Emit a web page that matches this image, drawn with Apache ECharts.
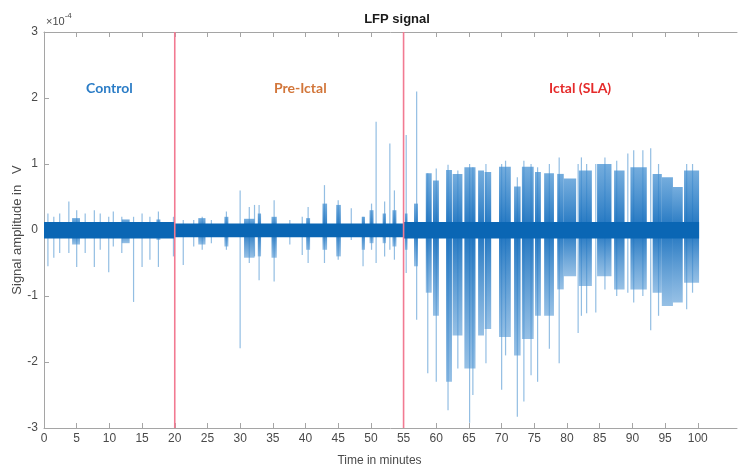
<!DOCTYPE html>
<html>
<head>
<meta charset="utf-8">
<script src="https://cdn.jsdelivr.net/npm/echarts@6/dist/echarts.min.js"></script>
<style>html,body{margin:0;padding:0;background:#fff;}#chart{width:743px;height:468px;}</style>
</head>
<body>
<div id="chart"></div>
<script>
// ---- values (amplitude in units of 1e-4 V, time in minutes) ----
const timeTicks = [0,5,10,15,20,25,30,35,40,45,50,55,60,65,70,75,80,85,90,95,100];
const ampTicks = [-3,-2,-1,0,1,2,3];

// background dense band of the signal per stage
const coreStart = [0, 20, 55];
const coreEnd   = [20, 55, 100.2];
const coreHigh  = [0.12, 0.10, 0.12];
const coreLow   = [-0.13, -0.11, -0.13];

// dense burst bodies
const burstStart = [4.3, 11.9, 17.2, 23.6, 27.6, 30.6, 32.7, 34.8, 40.1, 42.6, 44.7, 48.6, 49.8, 51.8, 53.3, 55.2, 56.6,
  58.4, 59.5, 61.5, 62.5, 64.3, 66.4, 67.4, 69.6, 71.9, 73.1, 75.1, 76.5, 78.5, 79.5, 81.8, 84.6, 87.2, 89.7, 93.1, 94.5, 96.2, 97.9];
const burstEnd   = [5.5, 13.1, 17.8, 24.7, 28.2, 32.2, 33.2, 35.6, 40.7, 43.3, 45.4, 49.1, 50.4, 52.3, 53.9, 55.6, 57.2,
  59.3, 60.4, 62.4, 64.0, 66.0, 67.3, 68.4, 71.4, 72.9, 74.9, 76.0, 78.0, 79.5, 81.4, 83.8, 86.8, 88.8, 92.2, 94.5, 96.2, 97.7, 100.2];
const burstHigh  = [0.18, 0.16, 0.16, 0.18, 0.2, 0.17, 0.25, 0.2, 0.18, 0.4, 0.38, 0.2, 0.3, 0.25, 0.3, 0.25, 0.4,
  0.86, 0.75, 0.91, 0.85, 0.95, 0.9, 0.88, 0.96, 0.66, 0.96, 0.88, 0.86, 0.85, 0.78, 0.9, 1.0, 0.9, 0.95, 0.85, 0.8, 0.65, 0.9];
const burstLow   = [-0.22, -0.2, -0.15, -0.22, -0.25, -0.42, -0.4, -0.42, -0.3, -0.3, -0.4, -0.3, -0.2, -0.2, -0.25, -0.3, -0.55,
  -0.95, -1.3, -2.3, -1.6, -2.1, -1.6, -1.5, -1.62, -1.9, -1.65, -1.3, -1.3, -0.9, -0.7, -0.85, -0.7, -0.9, -0.9, -0.95, -1.15, -1.1, -0.8];

// isolated thin spikes
const spikeTime = [0.6, 1.5, 2.4, 3.8, 5.0, 6.3, 7.7, 8.6, 9.9, 10.6, 11.9, 13.7, 15.0, 16.2, 17.5, 19.8,
  21.3, 22.9, 24.2, 25.6, 27.9, 30.0, 31.4, 32.2, 32.9, 35.2, 37.6, 39.5, 40.4, 42.9, 45.0, 47.0, 48.8, 50.1, 50.8, 52.1, 52.9, 53.6, 55.4, 57.0,
  58.7, 60.0, 61.8, 63.3, 65.1, 65.6, 67.6, 70.0, 70.6, 72.4, 73.4, 74.5, 75.5, 77.3, 78.8, 81.7, 82.2, 83.0, 84.4, 85.8, 87.6, 89.3, 90.2, 91.6, 92.8, 94.0, 98.3, 99.2];
const spikeHigh = [0.25, 0.2, 0.25, 0.43, 0.3, 0.25, 0.3, 0.25, 0.2, 0.28, 0.2, 0.2, 0.25, 0.2, 0.28, 0.2,
  0.15, 0.15, 0.2, 0.15, 0.28, 0.6, 0.35, 0.38, 0.38, 0.45, 0.15, 0.2, 0.35, 0.68, 0.45, 0.33, 0.2, 0.4, 1.64, 0.43, 1.31, 0.6, 1.44, 2.1,
  0.86, 0.93, 0.99, 0.9, 1.0, 0.95, 1.0, 1.0, 1.05, 0.8, 1.05, 1.0, 0.95, 1.0, 1.1, 1.0, 1.1, 1.0, 1.0, 1.1, 1.05, 1.16, 1.21, 1.21, 1.24, 1.0, 1.0, 1.0];
const spikeLow = [-0.55, -0.42, -0.35, -0.35, -0.56, -0.35, -0.56, -0.3, -0.64, -0.25, -0.35, -1.09, -0.56, -0.45, -0.56, -0.4,
  -0.53, -0.25, -0.3, -0.2, -0.3, -1.79, -0.5, -0.4, -0.76, -0.78, -0.22, -0.38, -0.5, -0.5, -0.45, -0.15, -0.55, -0.3, -0.5, -0.4, -0.3, -0.45, -0.65, -1.36,
  -2.17, -2.3, -2.73, -2.1, -2.92, -2.5, -2.02, -2.42, -1.9, -2.83, -2.6, -2.2, -2.3, -1.8, -2.02, -1.56, -1.3, -1.26, -1.25, -0.9, -1.0, -0.95, -1.1, -1.0, -1.52, -1.3, -1.2, -0.95];

// stage boundaries and labels
const stageBoundaries = [20, 55];
const stageNames = ['Control', 'Pre-Ictal', 'Ictal (SLA)'];
const stageLabelTime = [10.0, 39.2, 82.0];
const stageLabelAmp = [2.15, 2.15, 2.15];
const stageColors = ['#2a7cc6', '#d2763a', '#e52b2b'];

// ---- build ----
const coreData = coreStart.map((s, i) => [s, coreEnd[i], coreHigh[i], coreLow[i]]);
const burstData = burstStart.map((s, i) => [s, burstEnd[i], burstHigh[i], burstLow[i]]);
const spikeData = spikeTime.map((t, i) => [t, spikeHigh[i], spikeLow[i]]);
const stageData = stageNames.map((n, i) => ({ name: n, value: [stageLabelTime[i], stageLabelAmp[i]], color: stageColors[i] }));

function burstRender(params, api) {
  const p1 = api.coord([api.value(0), api.value(2)]);
  const p2 = api.coord([api.value(1), api.value(3)]);
  const z = api.coord([api.value(0), 0])[1];
  const h = p2[1] - p1[1];
  const mid = Math.min(Math.max((z - p1[1]) / h, 0.05), 0.95);
  const grad = new echarts.graphic.LinearGradient(0, 0, 0, 1, [
    { offset: 0, color: 'rgba(70,145,210,0.75)' },
    { offset: mid, color: 'rgba(18,108,188,0.95)' },
    { offset: 1, color: 'rgba(80,150,212,0.6)' }
  ]);
  return { type: 'rect', shape: { x: p1[0], y: p1[1], width: Math.max(p2[0] - p1[0], 1), height: h }, style: { fill: grad } };
}

const chart = echarts.init(document.getElementById('chart'));
const axisGray = '#a5a5a5';
const labelGray = '#4a4a4a';
chart.setOption({
  animation: false,
  backgroundColor: '#fff',
  title: { text: 'LFP signal', left: 392, textAlign: 'center', top: 8,
    textStyle: { fontFamily: 'Liberation Sans', fontSize: 13, fontWeight: 'bold', color: '#1a1a1a' } },
  graphic: [{ type: 'text', left: 46, top: 12, style: {
    text: '{a|×10}{b|-4}', rich: { a: { fontSize: 11, fontFamily: 'Liberation Sans', fill: labelGray, padding: [4, 0, 0, 0] }, b: { fontSize: 8, fontFamily: 'Liberation Sans', fill: labelGray, verticalAlign: 'top' } } } }],
  grid: { left: 44, right: 6, top: 32, bottom: 40, containLabel: false, outerBoundsMode: 'none' },
  xAxis: [{
    type: 'value', min: 0, max: 106, position: 'bottom',
    name: 'Time in minutes', nameLocation: 'middle', nameGap: 27,
    nameTextStyle: { fontFamily: 'Liberation Sans', fontSize: 12, color: labelGray, padding: [0, 22, 0, 0] },
    axisLine: { show: true, onZero: false, lineStyle: { color: axisGray } },
    axisTick: { show: true, inside: true, length: 5, customValues: timeTicks, lineStyle: { color: axisGray } },
    axisLabel: { customValues: timeTicks, fontFamily: 'Liberation Sans', fontSize: 12, color: labelGray, margin: 5 },
    splitLine: { show: false }
  }, {
    type: 'value', min: 0, max: 106, position: 'top',
    axisLine: { show: true, onZero: false, lineStyle: { color: axisGray } },
    axisTick: { show: true, inside: true, length: 5, customValues: timeTicks, lineStyle: { color: axisGray } },
    axisLabel: { show: false }, splitLine: { show: false }
  }],
  yAxis: {
    type: 'value', min: -3, max: 3, interval: 1,
    name: 'Signal amplitude in   V', nameLocation: 'middle', nameGap: 20, nameMoveOverlap: false,
    nameTextStyle: { fontFamily: 'Liberation Sans', fontSize: 13, color: labelGray },
    axisLine: { show: true, onZero: false, lineStyle: { color: axisGray } },
    axisTick: { show: true, inside: true, length: 5, lineStyle: { color: axisGray } },
    axisLabel: { fontFamily: 'Liberation Sans', fontSize: 12, color: labelGray, margin: 6 },
    splitLine: { show: false }
  },
  series: [
    { type: 'custom', name: 'spikes', data: spikeData, encode: { x: 0, y: [1, 2] }, z: 2,
      renderItem: function (params, api) {
        const p1 = api.coord([api.value(0), api.value(1)]);
        const p2 = api.coord([api.value(0), api.value(2)]);
        return { type: 'line', shape: { x1: p1[0], y1: p1[1], x2: p2[0], y2: p2[1] }, style: { stroke: 'rgba(40,125,200,0.5)', lineWidth: 1.2 } };
      } },
    { type: 'custom', name: 'bursts', data: burstData, encode: { x: [0, 1], y: [2, 3] }, z: 3, renderItem: burstRender },
    { type: 'custom', name: 'core', data: coreData, encode: { x: [0, 1], y: [2, 3] }, z: 4,
      renderItem: function (params, api) {
        const p1 = api.coord([api.value(0), api.value(2)]);
        const p2 = api.coord([api.value(1), api.value(3)]);
        return { type: 'rect', shape: { x: p1[0], y: p1[1], width: p2[0] - p1[0], height: p2[1] - p1[1] }, style: { fill: '#0a66b4' } };
      } },
    { type: 'custom', name: 'boundaries', data: stageBoundaries.map(v => [v]), encode: { x: 0 }, z: 5,
      renderItem: function (params, api) {
        const p1 = api.coord([api.value(0), 3]);
        const p2 = api.coord([api.value(0), -3]);
        return { type: 'line', shape: { x1: p1[0], y1: p1[1], x2: p2[0], y2: p2[1] }, style: { stroke: '#f27a92', lineWidth: 1.6 } };
      } },
    { type: 'custom', name: 'stages', data: stageData, encode: { x: 0, y: 1 }, z: 6,
      renderItem: function (params, api) {
        const p = api.coord([api.value(0), api.value(1)]);
        const d = stageData[params.dataIndex];
        return { type: 'text', x: p[0], y: p[1], style: { text: d.name, fill: d.color, fontFamily: 'Lato', fontWeight: 'bold', fontSize: 14, align: 'center', verticalAlign: 'middle' } };
      } }
  ]
});
</script>
</body>
</html>
